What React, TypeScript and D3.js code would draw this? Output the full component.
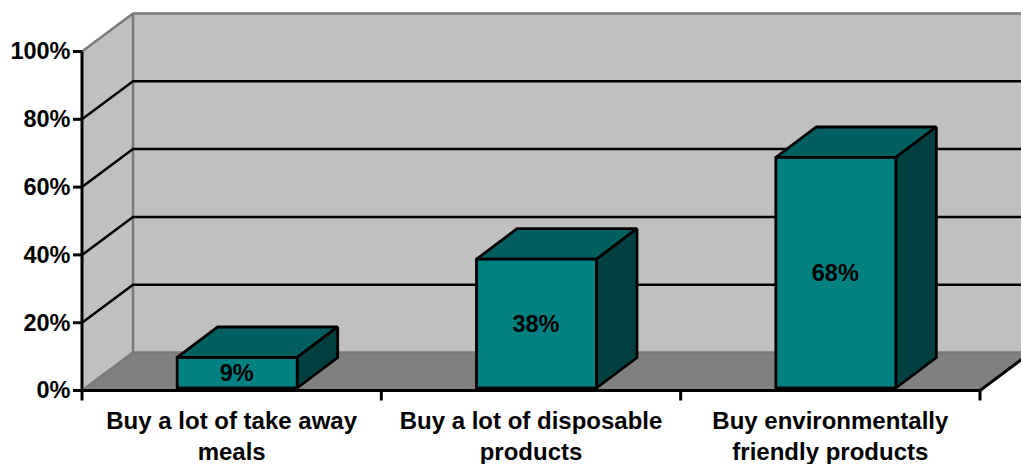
import React from "react";
import * as d3 from "d3";

const categories = [
  ["Buy a lot of take away", "meals"],
  ["Buy a lot of disposable", "products"],
  ["Buy environmentally", "friendly products"],
];
const values = [9, 38, 68];
const yTicks = [0, 20, 40, 60, 80, 100];

const WIDTH = 1021;
const HEIGHT = 464;
const FONT = "'Liberation Sans', Arial, sans-serif";

// Oblique projection of the chart box
const DEPTH_X = 51;
const DEPTH_Y = -38;
const BAR_DEPTH_X = 40.5;
const BAR_DEPTH_Y = -30.5;
const BAR_INSET_Y = -2.5;
const BAR_WIDTH = 120;

const y = d3.scaleLinear().domain([0, 100]).range([390.5, 51.5]);
const x = d3
  .scaleBand<number>()
  .domain(d3.range(categories.length))
  .range([82, 980]);

const poly = (pts: [number, number][]) => d3.line()(pts) + "Z";

export default function App() {
  const left = x.range()[0];
  const right = x.range()[1];
  const base = y(0);
  const top = y(100);

  return (
    <svg
      width={WIDTH}
      height={HEIGHT}
      viewBox={`0 0 ${WIDTH} ${HEIGHT}`}
      style={{ position: "absolute", left: 0, top: 0, background: "#fff" }}
      fontFamily={FONT}
      fontWeight="bold"
    >
      {/* back wall and side wall */}
      <path
        d={poly([
          [left + DEPTH_X, top + DEPTH_Y],
          [WIDTH + 5, top + DEPTH_Y],
          [WIDTH + 5, base + DEPTH_Y],
          [left + DEPTH_X, base + DEPTH_Y],
        ])}
        fill="#c0c0c0"
      />
      <path
        d={poly([
          [left, top],
          [left + DEPTH_X, top + DEPTH_Y],
          [left + DEPTH_X, base + DEPTH_Y],
          [left, base],
        ])}
        fill="#c0c0c0"
      />
      {/* floor */}
      <path
        d={poly([
          [left, base],
          [left + DEPTH_X, base + DEPTH_Y],
          [right + DEPTH_X, base + DEPTH_Y],
          [right, base],
        ])}
        fill="#808080"
      />

      {/* wall outlines */}
      <g stroke="#7a7a7a" strokeWidth={2.5} fill="none">
        <path d={`M${left},${top}L${left + DEPTH_X},${top + DEPTH_Y}H${WIDTH + 5}`} />
        <path d={`M${left + DEPTH_X},${top + DEPTH_Y}V${base + DEPTH_Y}`} />
        <path d={`M${left},${base}L${left + DEPTH_X},${base + DEPTH_Y}H${WIDTH + 5}`} />
      </g>

      {/* grid lines run along the side wall and the back wall */}
      <g stroke="#000" strokeWidth={2.5} fill="none">
        {yTicks
          .filter((t) => t > 0 && t < 100)
          .map((t) => (
            <path
              key={t}
              d={`M${left},${y(t)}L${left + DEPTH_X},${y(t) + DEPTH_Y}H${WIDTH + 5}`}
            />
          ))}
      </g>

      {/* bars */}
      {values.map((v, i) => {
        const x0 = x(i)! + (x.bandwidth() - BAR_WIDTH) / 2 + 5.5;
        const x1 = x0 + BAR_WIDTH;
        const y0 = base + BAR_INSET_Y;
        const y1 = y(v) + BAR_INSET_Y;
        return (
          <g key={i} stroke="#000" strokeWidth={2.8} strokeLinejoin="miter" strokeMiterlimit={1.5}>
            <path
              d={poly([
                [x0, y1],
                [x0 + BAR_DEPTH_X, y1 + BAR_DEPTH_Y],
                [x1 + BAR_DEPTH_X, y1 + BAR_DEPTH_Y],
                [x1, y1],
              ])}
              fill="#006060"
            />
            <path
              d={poly([
                [x1, y1],
                [x1 + BAR_DEPTH_X, y1 + BAR_DEPTH_Y],
                [x1 + BAR_DEPTH_X, y0 + BAR_DEPTH_Y],
                [x1, y0],
              ])}
              fill="#004040"
            />
            <rect x={x0} y={y1} width={BAR_WIDTH} height={y0 - y1} fill="#008080" />
            <text
              x={(x0 + x1) / 2 - 0.5}
              y={(y0 + y1) / 2}
              dy="0.36em"
              textAnchor="middle"
              fontSize={23.5}
              fill="#000"
              stroke="none"
            >
              {v}%
            </text>
          </g>
        );
      })}

      {/* axes */}
      <g stroke="#000" strokeWidth={3} fill="none">
        <path d={`M${left},${top}V${base}`} />
        <path d={`M${left},${base}H${right}`} />
        <path d={`M${right},${base}L${right + DEPTH_X},${base + DEPTH_Y}`} />
        {yTicks.map((t) => (
          <path key={t} d={`M${left - 9},${y(t)}H${left}`} />
        ))}
        {d3.range(categories.length + 1).map((i) => {
          const px = left + i * x.step();
          return <path key={i} d={`M${px},${base}V${base + 10}`} />;
        })}
      </g>

      {/* tick labels */}
      {yTicks.map((t) => (
        <text
          key={t}
          x={70.5}
          y={y(t) - 0.5}
          dy="0.36em"
          textAnchor="end"
          fontSize={23.5}
          fill="#000"
        >
          {t}%
        </text>
      ))}
      {categories.map((lines, i) => (
        <text
          key={i}
          x={x(i)! + x.bandwidth() / 2}
          textAnchor="middle"
          fontSize={24}
          fill="#000"
        >
          {lines.map((line, j) => (
            <tspan key={j} x={x(i)! + x.bandwidth() / 2} y={429 + j * 31}>
              {line}
            </tspan>
          ))}
        </text>
      ))}
    </svg>
  );
}
